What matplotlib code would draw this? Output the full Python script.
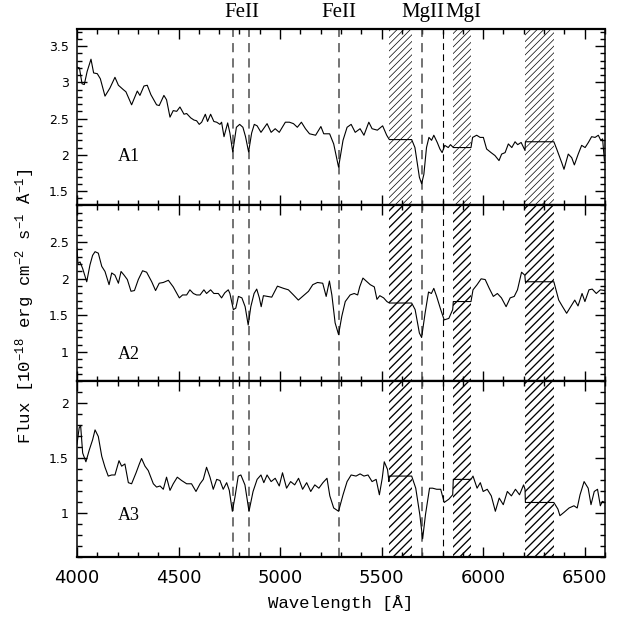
import matplotlib
matplotlib.use('Agg')
import matplotlib.pyplot as plt
from matplotlib.ticker import MultipleLocator, FuncFormatter

plt.rcParams['mathtext.fontset'] = 'custom'
plt.rcParams['mathtext.rm'] = 'Liberation Mono'
plt.rcParams['mathtext.default'] = 'rm'

# spectrum of region A1 (wavelength in Angstrom, flux in 1e-18 erg/cm2/s/A)
wl_a1 = [4000, 4012, 4025, 4036, 4050, 4069, 4082, 4100, 4115, 4138, 4162, 4187, 4204, 4228, 4241,
         4269, 4297, 4310, 4330, 4346, 4364, 4392, 4405, 4428, 4441, 4458, 4474, 4491, 4507, 4527,
         4540, 4560, 4576, 4589, 4602, 4614, 4632, 4643, 4658, 4674, 4688, 4704, 4712, 4724, 4742,
         4753, 4767, 4785, 4801, 4817, 4830, 4845, 4860, 4873, 4887, 4906, 4936, 4956, 4976, 4996,
         5026, 5046, 5066, 5085, 5105, 5125, 5145, 5175, 5201, 5215, 5244, 5264, 5288, 5310, 5330,
         5350, 5370, 5394, 5413, 5437, 5453, 5479, 5505, 5525, 5538, 5648, 5664, 5686, 5697, 5708,
         5721, 5733, 5746, 5757, 5774, 5787, 5798, 5811, 5828, 5839, 5853, 5940, 5948, 5968, 5985,
         6001, 6017, 6039, 6058, 6078, 6091, 6108, 6124, 6141, 6157, 6170, 6187, 6206, 6208, 6348,
         6362, 6387, 6398, 6419, 6436, 6449, 6468, 6485, 6502, 6518, 6534, 6551, 6567, 6579, 6588,
         6597]
flux_a1 = [3.21, 3.20, 2.98, 2.97, 3.15, 3.32, 3.13, 3.12, 3.05, 2.81, 2.92, 3.07, 2.96, 2.90, 2.87,
           2.69, 2.88, 2.82, 2.95, 2.96, 2.83, 2.69, 2.68, 2.82, 2.76, 2.52, 2.61, 2.60, 2.66, 2.56,
           2.57, 2.51, 2.48, 2.47, 2.42, 2.45, 2.56, 2.46, 2.56, 2.46, 2.45, 2.42, 2.45, 2.25, 2.44,
           2.30, 2.04, 2.38, 2.42, 2.38, 2.25, 2.04, 2.30, 2.42, 2.40, 2.31, 2.43, 2.31, 2.36, 2.31,
           2.45, 2.45, 2.43, 2.38, 2.45, 2.36, 2.29, 2.27, 2.39, 2.29, 2.29, 2.15, 1.83, 2.20, 2.38,
           2.42, 2.31, 2.36, 2.27, 2.45, 2.36, 2.34, 2.40, 2.27, 2.21, 2.21, 2.10, 1.69, 1.60, 1.73,
           2.10, 2.24, 2.20, 2.27, 2.17, 2.08, 2.03, 2.13, 2.10, 2.14, 2.10, 2.10, 2.24, 2.27, 2.24,
           2.24, 2.08, 2.03, 1.99, 1.92, 2.01, 2.03, 2.15, 2.10, 2.18, 2.14, 2.17, 2.06, 2.18, 2.18,
           2.08, 1.89, 1.80, 2.01, 1.96, 1.86, 2.01, 2.13, 2.10, 2.17, 2.25, 2.24, 2.27, 2.20, 2.22,
           1.92]

# region A2
wl_a2 = [4000, 4005, 4015, 4028, 4048, 4064, 4077, 4089, 4105, 4122, 4138, 4158, 4171, 4187, 4204,
         4217, 4232, 4248, 4266, 4283, 4302, 4323, 4343, 4368, 4387, 4405, 4425, 4450, 4474, 4504,
         4520, 4540, 4556, 4573, 4589, 4606, 4625, 4638, 4658, 4674, 4696, 4712, 4728, 4745, 4753,
         4770, 4782, 4795, 4812, 4828, 4843, 4856, 4872, 4885, 4898, 4907, 4918, 4938, 4959, 4987,
         5017, 5041, 5066, 5090, 5115, 5140, 5161, 5184, 5210, 5227, 5243, 5255, 5271, 5288, 5304,
         5321, 5345, 5365, 5382, 5392, 5408, 5428, 5444, 5464, 5477, 5491, 5510, 5526, 5538, 5648,
         5665, 5686, 5697, 5714, 5731, 5745, 5757, 5771, 5791, 5808, 5831, 5850, 5853, 5940, 5950,
         5970, 5990, 6010, 6030, 6050, 6070, 6090, 6113, 6133, 6153, 6169, 6189, 6205, 6208, 6348,
         6372, 6391, 6411, 6431, 6451, 6467, 6487, 6501, 6521, 6537, 6557, 6577, 6600]
flux_a2 = [2.42, 2.21, 2.23, 2.14, 1.96, 2.19, 2.32, 2.37, 2.35, 2.17, 2.10, 1.92, 2.08, 2.05, 1.94,
           2.10, 2.05, 1.99, 1.83, 1.84, 1.99, 2.11, 2.09, 1.96, 1.84, 1.94, 1.95, 1.98, 1.89, 1.74,
           1.78, 1.78, 1.85, 1.80, 1.78, 1.78, 1.85, 1.80, 1.85, 1.80, 1.80, 1.74, 1.81, 1.85, 1.80,
           1.58, 1.60, 1.76, 1.74, 1.62, 1.37, 1.62, 1.80, 1.86, 1.74, 1.62, 1.77, 1.76, 1.75, 1.90,
           1.87, 1.85, 1.78, 1.71, 1.77, 1.83, 1.92, 1.95, 1.94, 1.76, 1.97, 1.78, 1.40, 1.24, 1.49,
           1.69, 1.78, 1.80, 1.78, 1.89, 2.01, 1.96, 1.92, 1.89, 1.72, 1.77, 1.74, 1.69, 1.67, 1.67,
           1.58, 1.26, 1.20, 1.53, 1.82, 1.80, 1.87, 1.76, 1.58, 1.44, 1.46, 1.58, 1.69, 1.69, 1.85,
           1.92, 2.00, 1.99, 1.87, 1.76, 1.80, 1.74, 1.62, 1.74, 1.76, 1.85, 2.09, 2.05, 1.96, 1.96,
           1.71, 1.62, 1.53, 1.62, 1.71, 1.63, 1.80, 1.69, 1.85, 1.86, 1.80, 1.85, 1.84]

# region A3
wl_a3 = [4000, 4011, 4018, 4028, 4044, 4061, 4077, 4089, 4105, 4122, 4138, 4154, 4171, 4187, 4207,
         4220, 4236, 4253, 4269, 4291, 4307, 4318, 4335, 4351, 4376, 4392, 4409, 4425, 4441, 4458,
         4474, 4494, 4515, 4540, 4564, 4586, 4606, 4622, 4638, 4655, 4671, 4688, 4704, 4720, 4737,
         4750, 4765, 4778, 4794, 4807, 4827, 4847, 4867, 4887, 4906, 4920, 4936, 4956, 4976, 4996,
         5012, 5032, 5052, 5072, 5091, 5111, 5131, 5151, 5171, 5191, 5211, 5231, 5245, 5264, 5288,
         5310, 5330, 5350, 5374, 5394, 5413, 5433, 5453, 5473, 5489, 5503, 5513, 5529, 5536, 5538,
         5648, 5668, 5688, 5702, 5716, 5736, 5751, 5771, 5791, 5808, 5831, 5850, 5853, 5940, 5950,
         5970, 5986, 6000, 6020, 6040, 6060, 6079, 6099, 6119, 6139, 6159, 6179, 6199, 6206, 6208,
         6348, 6368, 6378, 6398, 6423, 6447, 6463, 6477, 6497, 6517, 6531, 6547, 6563, 6577, 6587,
         6600]
flux_a3 = [1.63, 1.78, 1.80, 1.55, 1.47, 1.58, 1.67, 1.76, 1.70, 1.52, 1.42, 1.34, 1.35, 1.35, 1.48,
           1.43, 1.45, 1.28, 1.27, 1.37, 1.45, 1.50, 1.43, 1.39, 1.27, 1.24, 1.25, 1.22, 1.33, 1.21,
           1.27, 1.33, 1.30, 1.27, 1.27, 1.20, 1.27, 1.31, 1.42, 1.33, 1.22, 1.31, 1.30, 1.22, 1.28,
           1.21, 1.02, 1.15, 1.34, 1.35, 1.26, 1.02, 1.20, 1.31, 1.35, 1.28, 1.35, 1.29, 1.32, 1.25,
           1.37, 1.23, 1.29, 1.26, 1.32, 1.22, 1.28, 1.20, 1.26, 1.23, 1.28, 1.32, 1.16, 1.05, 1.02,
           1.17, 1.29, 1.35, 1.34, 1.36, 1.34, 1.35, 1.29, 1.31, 1.17, 1.32, 1.47, 1.40, 1.29, 1.34,
           1.34, 1.23, 0.99, 0.77, 0.99, 1.23, 1.23, 1.22, 1.22, 1.10, 1.13, 1.17, 1.31, 1.31, 1.34,
           1.23, 1.28, 1.20, 1.22, 1.16, 1.02, 1.14, 1.08, 1.20, 1.16, 1.22, 1.17, 1.26, 1.22, 1.10,
           1.10, 1.04, 0.98, 1.01, 1.05, 1.07, 1.05, 1.17, 1.29, 1.23, 1.08, 1.20, 1.22, 1.07, 1.11,
           1.10]

panel_names = ['A1', 'A2', 'A3']
ylims = [(1.3, 3.73), (0.6, 3.0), (0.6, 2.2)]
yticks = [[1.5, 2, 2.5, 3, 3.5], [1, 1.5, 2, 2.5], [1, 1.5, 2]]
name_pos = [0.276, 0.156, 0.237]

# line markers and masked (sky) regions
line_waves = [4767, 4845, 5288, 5700, 5802]
line_names = ['FeII', 'FeII', 'MgII', 'MgI']
line_name_waves = [4810, 5290, 5702, 5905]
masked_bands = [(5538, 5648), (5853, 5940), (6208, 6348)]

serif = ['Liberation Serif', 'DejaVu Serif']
mono = ['Liberation Mono', 'DejaVu Sans Mono']


def draw_panel(ax, wl, flux, idx):
    # top panel hatching is drawn finer than the other two
    hatch = '/////' if idx == 0 else '////'
    hatch_lw = 0.5 if idx == 0 else 0.95
    for lo, hi in masked_bands:
        band = ax.axvspan(lo, hi, facecolor='none', edgecolor='k', lw=0, hatch=hatch, zorder=1)
        if hasattr(band, 'set_hatch_linewidth'):
            band.set_hatch_linewidth(hatch_lw)
    for i, w in enumerate(line_waves):
        ax.axvline(w, color='0.3' if i < 4 else 'k', lw=1.1 if i < 4 else 0.8,
                   dashes=(6, 4), zorder=2)
    ax.plot(wl, flux, color='k', lw=0.8, zorder=3)

    ax.set_xlim(4000, 6600)
    ax.set_ylim(*ylims[idx])
    ax.set_yticks(yticks[idx])
    ax.yaxis.set_minor_locator(MultipleLocator(0.1))
    ax.xaxis.set_major_locator(MultipleLocator(500))
    ax.xaxis.set_minor_locator(MultipleLocator(100))
    ax.yaxis.set_major_formatter(FuncFormatter(lambda v, p: '%g' % v))
    ax.tick_params(which='both', direction='in', top=True, right=True, width=1.0)
    ax.tick_params(which='major', length=7)
    ax.tick_params(which='minor', length=3.5)
    ax.tick_params(axis='y', labelsize=9, pad=6)
    ax.tick_params(axis='x', labelsize=13, pad=8)
    for side in ['top', 'bottom']:
        ax.spines[side].set_linewidth(1.6)
    for side in ['left', 'right']:
        ax.spines[side].set_linewidth(1.1)

    ax.text(0.078, name_pos[idx], panel_names[idx], transform=ax.transAxes,
            ha='left', va='center', fontsize=13, family=serif)


def main():
    fig, axes = plt.subplots(3, 1, sharex=True, figsize=(6.33, 6.21), dpi=100)
    fig.subplots_adjust(left=0.1216, right=0.9558, bottom=0.1023, top=0.9525, hspace=0)

    spectra = [(wl_a1, flux_a1), (wl_a2, flux_a2), (wl_a3, flux_a3)]
    for idx, (ax, (wl, flux)) in enumerate(zip(axes, spectra)):
        draw_panel(ax, wl, flux, idx)

    top = axes[0]
    for name, w in zip(line_names, line_name_waves):
        top.text(w, 1.04, name, transform=top.get_xaxis_transform(), ha='center', va='bottom',
                 fontsize=15, family=serif)

    axes[2].set_xlabel('Wavelength [Å]', fontsize=12.5, family=mono, labelpad=6)
    fig.text(0.04, 0.506, r'Flux [10$^{-18}$ erg cm$^{-2}$ s$^{-1}$ Å$^{-1}$]',
             rotation=90, ha='center', va='center', fontsize=12.5, family=mono)

    fig.savefig('out.png', dpi=100)


if __name__ == "__main__":
    main()
